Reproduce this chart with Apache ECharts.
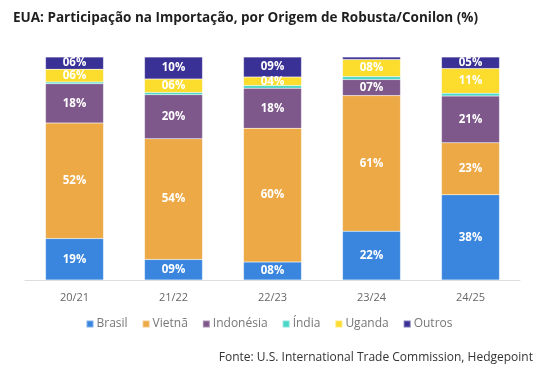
<!DOCTYPE html>
<html>
<head>
<meta charset="utf-8">
<script src="https://cdn.jsdelivr.net/npm/echarts@6/dist/echarts.min.js"></script>
<style>html,body{margin:0;padding:0;background:#fff}#c{width:538px;height:370px}</style>
</head>
<body>
<div id="c"></div>
<script>
var categories = ['20/21', '21/22', '22/23', '23/24', '24/25'];
var brasil    = [18.6, 9.2, 8.1, 21.9, 38.2];
var vietna    = [51.8, 54.1, 59.9, 60.8, 23.3];
var indonesia = [17.6, 19.8, 18.0, 7.2, 21.0];
var india     = [0.8, 1.0, 1.2, 1.3, 1.2];
var uganda    = [5.7, 6.0, 3.8, 7.7, 11.1];
var outros    = [5.5, 9.9, 9.0, 1.1, 5.2];
var seriesNames = ['Brasil', 'Vietnã', 'Indonésia', 'Índia', 'Uganda', 'Outros'];
var colors = ['#3a86de', '#eca945', '#7e578b', '#4ad6c6', '#fcdc2c', '#3a3196'];
var allData = [brasil, vietna, indonesia, india, uganda, outros];

var font = "'Open Sans', sans-serif";
function fmt(p) {
  if (p.value < 3) return '';
  var v = Math.round(p.value);
  return (v < 10 ? '0' : '') + v + '%';
}
var series = seriesNames.map(function (n, i) {
  return {
    name: n, type: 'bar', stack: 'total', barWidth: 58,
    data: allData[i],
    itemStyle: { color: colors[i], borderColor: 'rgba(255,255,255,0.35)', borderWidth: 0.5 },
    label: { show: true, position: 'inside', formatter: fmt, color: '#fff',
             fontFamily: font, fontWeight: 'bold', fontSize: 11.5 }
  };
});
var chart = echarts.init(document.getElementById('c'));
chart.setOption({
  animation: false,
  color: colors,
  title: { text: 'EUA: Participação na Importação, por Origem de Robusta/Conilon (%)',
           left: 8, top: 6,
           textStyle: { fontFamily: font, fontWeight: 'bold', fontSize: 13.5, color: '#1e1e1e' } },
  grid: { left: 25, right: 18, top: 57, bottom: 90 },
  xAxis: { type: 'category', data: categories,
           axisLine: { lineStyle: { color: '#dddddd' } },
           axisTick: { show: false },
           axisLabel: { color: '#666', fontFamily: font, fontSize: 11, margin: 12 } },
  yAxis: { type: 'value', min: 0, max: 100, show: false, splitLine: { show: false } },
  legend: { data: seriesNames, bottom: 35, left: 'center', itemWidth: 7, itemHeight: 7, itemGap: 14,
            icon: 'rect',
            textStyle: { color: '#777', fontFamily: font, fontSize: 12, padding: [0, 0, 0, -2] } },
  graphic: [{ type: 'text', right: 5, bottom: 6,
              style: { text: 'Fonte: U.S. International Trade Commission, Hedgepoint',
                       fill: '#333', font: '12px ' + font } }],
  series: series
});
</script>
</body>
</html>
